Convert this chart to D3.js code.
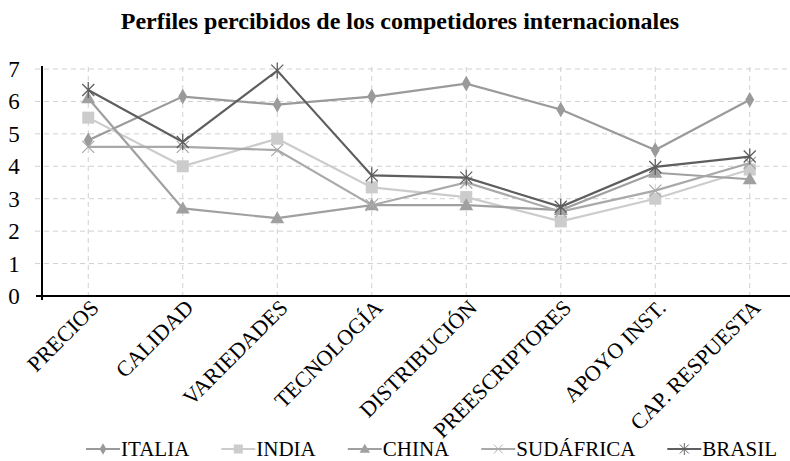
<!DOCTYPE html>
<html><head><meta charset="utf-8">
<script src="https://cdn.jsdelivr.net/npm/d3@7/dist/d3.min.js"></script>
<style>body{margin:0;background:#fff}svg{display:block}</style>
</head><body><svg id="c" width="790" height="461"></svg>
<script>
const categories = ["PRECIOS","CALIDAD","VARIEDADES","TECNOLOGÍA","DISTRIBUCIÓN","PREESCRIPTORES","APOYO INST.","CAP. RESPUESTA"];
const italia    = [4.8, 6.15, 5.9, 6.15, 6.55, 5.75, 4.5, 6.05];
const india     = [5.5, 4.0, 4.85, 3.35, 3.05, 2.3, 3.0, 3.9];
const china     = [6.1, 2.7, 2.4, 2.8, 2.8, 2.65, 3.8, 3.6];
const sudafrica = [4.6, 4.6, 4.5, 2.8, 3.5, 2.6, 3.25, 4.1];
const brasil    = [6.35, 4.75, 6.95, 3.72, 3.65, 2.75, 3.98, 4.3];
const yTicks = [0,1,2,3,4,5,6,7];
const title = "Perfiles percibidos de los competidores internacionales";

const FONT = "Liberation Serif";

const series = [
  {name:"ITALIA", values:italia, color:"#9a9a9a", marker:"diamond"},
  {name:"INDIA", values:india, color:"#cccccc", marker:"square"},
  {name:"CHINA", values:china, color:"#a0a0a0", marker:"triangle"},
  {name:"SUDÁFRICA", values:sudafrica, color:"#a9a9a9", marker:"x"},
  {name:"BRASIL", values:brasil, color:"#5e5e5e", marker:"star"}
];

const svg = d3.select("#c");
const x = d3.scaleBand().domain(categories).range([41, 797]);
const y = d3.scaleLinear().domain([0,7]).range([296, 69]);
const cx = c => x(c) + x.bandwidth()/2;

svg.append("text").attr("x",400).attr("y",29).attr("text-anchor","middle")
  .attr("font-family",FONT).attr("font-weight","bold").attr("font-size",24).text(title);

// grid
const g = svg.append("g");
g.selectAll(".hg").data(yTicks.filter(d=>d>0)).join("line")
  .attr("x1",35).attr("x2",790).attr("y1",d=>y(d)).attr("y2",d=>y(d))
  .attr("stroke","#d0d0d0").attr("stroke-dasharray","5,4").attr("stroke-width",1);
g.selectAll(".vg").data(categories).join("line")
  .attr("x1",d=>cx(d)).attr("x2",d=>cx(d)).attr("y1",y(7)-2).attr("y2",y(0))
  .attr("stroke","#d0d0d0").attr("stroke-dasharray","5,4").attr("stroke-width",1);

// axes
svg.append("line").attr("x1",36).attr("x2",790).attr("y1",y(0)).attr("y2",y(0)).attr("stroke","#000").attr("stroke-width",2);
svg.append("line").attr("x1",42).attr("x2",42).attr("y1",y(7)-3).attr("y2",y(0)+4).attr("stroke","#000").attr("stroke-width",2);

svg.selectAll(".yl").data(yTicks).join("text")
  .attr("font-family",FONT)
  .attr("x",14).attr("y",d=>y(d)+8).attr("text-anchor","middle").attr("font-size",23).text(d=>d);

svg.selectAll(".xl").data(categories).join("text")
  .attr("font-family",FONT)
  .attr("text-anchor","end").attr("font-size",22)
  .attr("transform",d=>`translate(${cx(d)+12},${309}) rotate(-45)`).text(d=>d);

const line = d3.line().x((d,i)=>cx(categories[i])).y(d=>y(d));

function marker(sel, type, color){
  if(type==="diamond") sel.append("path").attr("d",d3.symbol(d3.symbolDiamond,70)()).attr("fill",color);
  else if(type==="square") sel.append("rect").attr("x",-6).attr("y",-6).attr("width",12).attr("height",12).attr("fill",color);
  else if(type==="triangle") sel.append("path").attr("d","M0,-7L7,5L-7,5Z").attr("fill",color);
  else if(type==="x") sel.append("path").attr("d","M-6,-6L6,6M-6,6L6,-6").attr("stroke",color).attr("stroke-width",1.2).attr("fill","none");
  else if(type==="star") sel.append("path").attr("d","M-6,-6L6,6M-6,6L6,-6M0,-8L0,8").attr("stroke",color).attr("stroke-width",1.3).attr("fill","none");
}

series.forEach(s=>{
  svg.append("path").attr("d",line(s.values)).attr("fill","none").attr("stroke",s.color).attr("stroke-width",2.2);
  s.values.forEach((v,i)=>{
    const m = svg.append("g").attr("transform",`translate(${cx(categories[i])},${y(v)})`);
    marker(m, s.marker, s.color);
  });
});

// legend
const leg = svg.append("g");
const ly = 449, LL = 34, L0 = 86, L1 = 777;
const items = series.map(s=>{
  const it = leg.append("g");
  it.append("line").attr("x1",0).attr("x2",LL).attr("y1",0).attr("y2",0).attr("stroke",s.color).attr("stroke-width",2.2);
  const m = it.append("g").attr("transform",`translate(${LL/2},0) scale(0.75)`);
  marker(m, s.marker, s.color);
  const t = it.append("text").attr("font-family",FONT).attr("x",LL+1).attr("y",7).attr("font-size",21).text(s.name);
  return {it, w: LL+1+t.node().getComputedTextLength()};
});
const tot = d3.sum(items,d=>d.w);
const gap = (L1-L0-tot)/(items.length-1);
let lx = L0;
items.forEach(d=>{ d.it.attr("transform",`translate(${lx},${ly})`); lx += d.w + gap; });
</script></body></html>
